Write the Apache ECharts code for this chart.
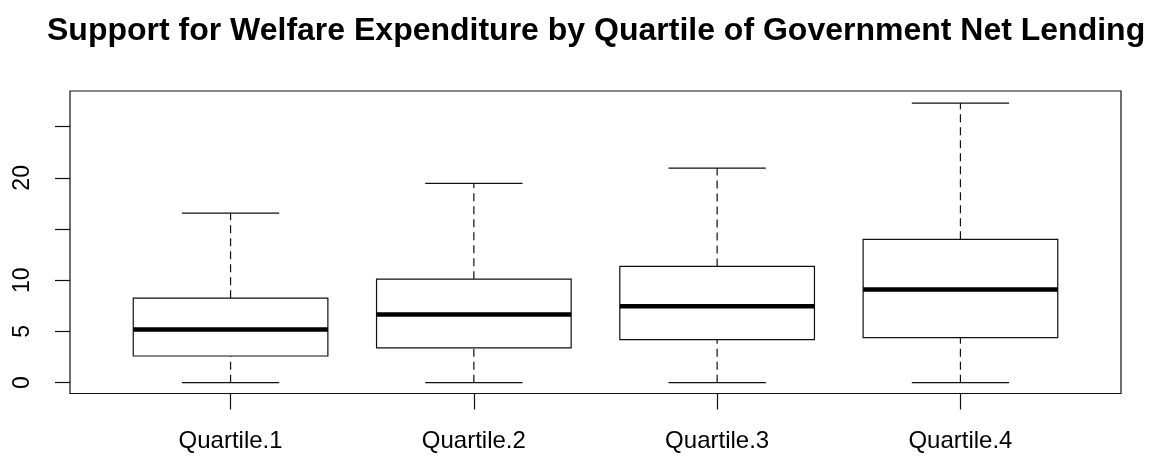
<!DOCTYPE html>
<html>
<head>
<meta charset="utf-8">
<script src="https://cdn.jsdelivr.net/npm/echarts@6/dist/echarts.min.js"></script>
<style>
  html, body { margin: 0; padding: 0; background: #fff; }
  #chart { width: 1150px; height: 459px; }
</style>
</head>
<body>
<div id="chart"></div>
<script>
// boxplot stats per quartile group
const categories = ['Quartile.1', 'Quartile.2', 'Quartile.3', 'Quartile.4'];
const positions = [1, 2, 3, 4];
const lowerWhisker = [0, 0, 0, 0];
const lowerHinge = [2.6, 3.4, 4.2, 4.4];
const medians = [5.2, 6.65, 7.45, 9.1];
const upperHinge = [8.25, 10.1, 11.35, 14.0];
const upperWhisker = [16.55, 19.45, 20.95, 27.3];
const yTicks = [0, 5, 10, 15, 20, 25];
const yLabels = [0, 5, 10, 20];

const boxData = positions.map((p, i) => [p, lowerWhisker[i], lowerHinge[i], medians[i], upperHinge[i], upperWhisker[i]]);

const chart = echarts.init(document.getElementById('chart'));

function renderBox(params, api) {
  const x = api.value(0);
  const lo = api.coord([x, api.value(1)]);
  const q1 = api.coord([x, api.value(2)]);
  const md = api.coord([x, api.value(3)]);
  const q3 = api.coord([x, api.value(4)]);
  const hi = api.coord([x, api.value(5)]);
  const halfBox = api.size([0.8, 0])[0] / 2;
  const halfCap = api.size([0.4, 0])[0] / 2;
  const cx = lo[0];
  const thin = { stroke: '#111', lineWidth: 1.2 };
  const dashed = { stroke: '#111', lineWidth: 1.2, lineDash: [8, 5] };
  return {
    type: 'group',
    children: [
      { type: 'line', shape: { x1: cx, y1: q3[1], x2: cx, y2: hi[1] }, style: dashed },
      { type: 'line', shape: { x1: cx, y1: lo[1], x2: cx, y2: q1[1] }, style: dashed },
      { type: 'line', shape: { x1: cx - halfCap, y1: hi[1], x2: cx + halfCap, y2: hi[1] }, style: thin },
      { type: 'line', shape: { x1: cx - halfCap, y1: lo[1], x2: cx + halfCap, y2: lo[1] }, style: thin },
      { type: 'rect', shape: { x: cx - halfBox, y: q3[1], width: halfBox * 2, height: q1[1] - q3[1] },
        style: { fill: '#fff', stroke: '#111', lineWidth: 1.2 } },
      { type: 'line', shape: { x1: cx - halfBox, y1: md[1], x2: cx + halfBox, y2: md[1] },
        style: { stroke: '#000', lineWidth: 4.5 } }
    ]
  };
}

const option = {
  animation: false,
  backgroundColor: '#fff',
  title: {
    text: 'Support for Welfare Expenditure by Quartile of Government Net Lending',
    left: 42,
    top: 10,
    textStyle: {
      fontFamily: 'Liberation Sans',
      fontWeight: 'bold',
      fontSize: 32,
      color: '#000'
    }
  },
  grid: {
    left: 70,
    right: 29,
    top: 91,
    bottom: 65.5,
    show: true,
    borderColor: '#111',
    borderWidth: 1.2
  },
  xAxis: {
    type: 'value',
    min: 0.34,
    max: 4.66,
    splitLine: { show: false },
    axisLine: { show: false, onZero: false },
    axisTick: {
      show: true,
      customValues: positions,
      length: 16,
      lineStyle: { color: '#111', width: 1.2 }
    },
    axisLabel: {
      customValues: positions,
      margin: 36,
      fontFamily: 'Liberation Sans',
      fontSize: 24,
      color: '#000',
      formatter: v => categories[positions.indexOf(v)] || ''
    }
  },
  yAxis: {
    type: 'value',
    min: -1.06,
    max: 28.48,
    splitLine: { show: false },
    axisLine: { show: false, onZero: false },
    axisTick: {
      show: true,
      customValues: yTicks,
      length: 15,
      lineStyle: { color: '#111', width: 1.2 }
    },
    axisLabel: {
      customValues: yLabels,
      rotate: 90,
      margin: 36,
      fontFamily: 'Liberation Sans',
      fontSize: 23,
      color: '#000'
    }
  },
  series: [{
    type: 'custom',
    renderItem: renderBox,
    encode: { x: 0, y: [1, 2, 3, 4, 5] },
    data: boxData
  }]
};

chart.setOption(option);
</script>
</body>
</html>
